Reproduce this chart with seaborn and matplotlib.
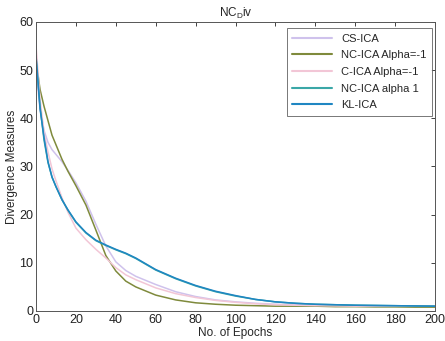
import numpy as np
import pandas as pd
import matplotlib
matplotlib.use("Agg")
import matplotlib.pyplot as plt
import seaborn as sns

# ---- datos ----
epocas = [0, 2, 4, 6, 8, 10, 13, 16, 20, 25, 30, 35, 40, 45, 50, 60, 70, 80,
          90, 100, 110, 120, 130, 140, 150, 160, 170, 180, 190, 200]

cs_ica = [50, 42, 37.5, 35, 33.5, 32.5, 31, 29.2, 26.6, 22.8, 18, 13.5, 10.2, 8.4, 7.2,
          5.5, 4.0, 3.0, 2.3, 1.9, 1.6, 1.4, 1.3, 1.2, 1.15, 1.1, 1.05, 1.0, 1.0, 1.0]
nc_ica_m1 = [52, 46, 42.5, 39.5, 36.5, 34.5, 31.5, 29, 26, 22, 16.8, 11.5, 8.3, 6.2, 5,
             3.3, 2.3, 1.7, 1.4, 1.2, 1.1, 1.0, 1.0, 1.0, 0.9, 0.9, 0.85, 0.85, 0.8, 0.8]
c_ica_m1 = [55, 44, 37, 33, 29.5, 27, 23.5, 20.5, 17.2, 14.8, 12.8, 11, 9, 7.5, 6.5,
            4.8, 3.6, 2.8, 2.2, 1.8, 1.5, 1.3, 1.2, 1.1, 1.05, 1.0, 1.0, 1.0, 1.0, 1.0]
nc_ica_1 = [52.5, 42.5, 35.5, 30.8, 27.8, 25.8, 23.1, 20.9, 18.4, 16.2, 14.6, 13.6, 12.7, 11.9, 10.9,
            8.5, 6.7, 5.2, 4.0, 3.1, 2.4, 1.9, 1.6, 1.4, 1.3, 1.2, 1.15, 1.1, 1.05, 1.0]
kl_ica = [53, 42, 36, 31, 27.8, 25.8, 23.1, 21, 18.5, 16.3, 14.7, 13.7, 12.8, 12, 11,
          8.6, 6.8, 5.3, 4.1, 3.2, 2.4, 1.9, 1.6, 1.4, 1.3, 1.2, 1.15, 1.1, 1.05, 1.0]

series = {
    "CS-ICA": cs_ica,
    "NC-ICA Alpha=-1": nc_ica_m1,
    "C-ICA Alpha=-1": c_ica_m1,
    "NC-ICA alpha 1": nc_ica_1,
    "KL-ICA": kl_ica,
}
colores = {
    "CS-ICA": "#cfc2ec",
    "NC-ICA Alpha=-1": "#7f8a3c",
    "C-ICA Alpha=-1": "#f2c6d6",
    "NC-ICA alpha 1": "#3aa7a7",
    "KL-ICA": "#1f86c2",
}

df = pd.concat([pd.DataFrame({"epoca": epocas, "valor": v, "metodo": k})
                for k, v in series.items()], ignore_index=True)

sns.set_style("white")
plt.rcParams['font.family'] = ['Liberation Sans', 'DejaVu Sans']

fig = plt.figure(figsize=(4.45, 3.41), dpi=100)
ax = fig.add_axes([0.081, 0.088, 0.8965, 0.8475])

sns.lineplot(data=df, x="epoca", y="valor", hue="metodo", palette=colores,
             hue_order=list(series.keys()), ax=ax, linewidth=1.1)
# la linea KL-ICA es un poco mas gruesa
for ln in ax.get_lines():
    if ln.get_label() == "KL-ICA":
        ln.set_linewidth(1.6)

ax.set_xlim(0, 200)
ax.set_ylim(0, 60)
ax.set_xticks(range(0, 201, 20))
ax.set_yticks(range(0, 61, 10))
ax.tick_params(direction='in', top=True, right=True, length=3, width=0.6,
               labelsize=9, colors='#222222', pad=2)
for s in ax.spines.values():
    s.set_color('#555555')
    s.set_linewidth(0.7)

ax.set_xlabel("No. of Epochs", fontsize=8.5, labelpad=1)
ax.set_ylabel("Divergence Measures", fontsize=8.5, labelpad=1)
ax.set_title("NC$_\\mathregular{D}$iv", fontsize=8.5, pad=4)

leg = ax.legend(loc="upper right", fontsize=8, frameon=True, fancybox=False,
                borderpad=0.5, labelspacing=0.6, handlelength=3.6,
                borderaxespad=0, bbox_to_anchor=(0.993, 0.979))
leg.get_frame().set_edgecolor('#555555')
leg.get_frame().set_linewidth(0.7)
for h in leg.get_lines():
    h.set_linewidth(1.5)

fig.savefig("out.png", dpi=100)
